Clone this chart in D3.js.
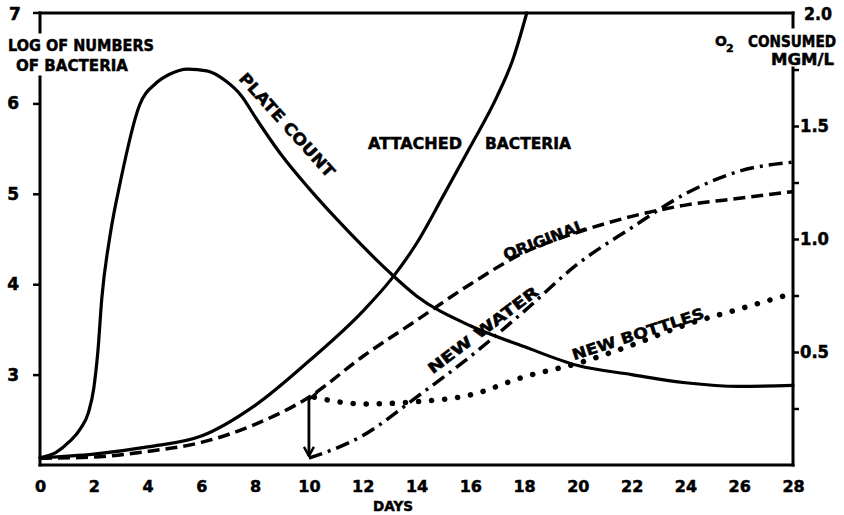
<!DOCTYPE html>
<html>
<head>
<meta charset="utf-8">
<script src="https://cdn.jsdelivr.net/npm/d3@7"></script>
<style>
  body { margin: 0; background: #fff; }
  text { font-family: 'DejaVu Sans', sans-serif; font-weight: bold; fill: #000; stroke: #000; stroke-width: 0.5px; }
</style>
</head>
<body>
<script>
// bacteria in bottles, log counts (left) and O2 consumed (right)

let w = 844;
let h = 515;

// log numbers of bacteria
let plateDays = [0, 0.6, 1.1, 1.5, 1.8, 2, 2.15, 2.3, 2.6, 3, 3.7, 4.3, 4.8, 5.5, 6.2, 6.9, 7.5, 8, 9, 10, 11, 12, 13, 14, 16, 18, 20, 22, 24, 26, 28];
let plateLog = [2.08, 2.14, 2.26, 2.4, 2.58, 2.85, 3.25, 3.85, 4.53, 5.15, 5.98, 6.22, 6.32, 6.38, 6.36, 6.25, 6.08, 5.85, 5.42, 5.06, 4.73, 4.42, 4.13, 3.87, 3.54, 3.31, 3.1, 3.0, 2.91, 2.87, 2.88];

let attachedDays = [0, 2, 4, 6, 8, 10, 12, 13.1, 14, 15, 16, 17, 17.6, 18.1];
let attachedLog = [2.08, 2.12, 2.2, 2.32, 2.66, 3.15, 3.7, 4.07, 4.45, 4.98, 5.52, 6.08, 6.5, 7.0];

// O2 consumed, mgm/l
let originalDays = [0, 2, 4, 6, 8, 10, 12, 14, 16, 18, 20, 22, 24, 26, 28];
let originalO2 = [0.03, 0.035, 0.06, 0.1, 0.18, 0.3, 0.48, 0.64, 0.8, 0.94, 1.03, 1.1, 1.15, 1.18, 1.21];

let waterDays = [10, 12, 14, 16, 18, 20, 22, 24, 26, 28];
let waterO2 = [0.03, 0.13, 0.3, 0.48, 0.68, 0.89, 1.05, 1.2, 1.3, 1.34];

let bottleDays = [10.2, 12, 14, 16, 18, 20, 22, 24, 26, 28];
let bottleO2 = [0.3, 0.27, 0.28, 0.31, 0.39, 0.45, 0.53, 0.62, 0.69, 0.76];

let dayTicks = [0, 2, 4, 6, 8, 10, 12, 14, 16, 18, 20, 22, 24, 26, 28];
let logTicks = [3, 4, 5, 6];
let o2Ticks = [0.25, 0.5, 0.75, 1.0, 1.25, 1.5, 1.75];
let o2Labels = [0.5, 1.0, 1.5];

let x = d3.scaleLinear().domain([0, 28]).range([40, 793]);
let yL = d3.scaleLinear().domain([2, 7]).range([465, 13]);
let yR = d3.scaleLinear().domain([0, 2]).range([465, 13]);

let svg = d3.select('body').append('svg').attr('width', w).attr('height', h);

// frame
let frame = [
    [[40, 13], [793, 13]],
    [[40, 13], [40, 32]],
    [[40, 77], [40, 465]],
    [[40, 465], [793, 465]],
    [[793, 13], [793, 27]],
    [[793, 68], [793, 465]]
];
svg.selectAll('line.frame')
    .data(frame)
    .enter()
    .append('line')
    .attr('class', 'frame')
    .attr('x1', d => d[0][0]).attr('y1', d => d[0][1])
    .attr('x2', d => d[1][0]).attr('y2', d => d[1][1])
    .attr('stroke', '#000')
    .attr('stroke-width', 3)
    .attr('stroke-linecap', 'square');

function txt(t, tx, ty, size, len) {
    let el = svg.append('text').attr('x', tx).attr('y', ty).attr('font-size', size).text(t);
    if (len) el.attr('textLength', len).attr('lengthAdjust', 'spacingAndGlyphs');
    return el;
}

// bottom axis
let xAxis = svg.append('g')
    .attr('transform', 'translate(0,465)')
    .call(d3.axisBottom(x).tickValues(dayTicks).tickSize(0).tickPadding(16).tickFormat(d3.format('d')));
xAxis.select('.domain').remove();
xAxis.selectAll('text').attr('font-size', 16).attr('font-family', null).attr('fill', null);

txt('DAYS', 373, 511, 14, 40);

// left axis
let leftAxis = svg.append('g')
    .attr('transform', 'translate(40,0)')
    .call(d3.axisLeft(yL).tickValues(logTicks).tickSize(7).tickPadding(14).tickFormat(d3.format('d')));
leftAxis.select('.domain').remove();
leftAxis.selectAll('line').attr('stroke-width', 2.5);
leftAxis.selectAll('text').attr('font-size', 17).attr('font-family', null).attr('fill', null);

txt('7', 9, 20, 17);
svg.append('line').attr('x1', 33).attr('x2', 40).attr('y1', yL(7)).attr('y2', yL(7)).attr('stroke', '#000').attr('stroke-width', 2.5);

txt('LOG OF NUMBERS', 8, 51, 16, 146);
txt('OF BACTERIA', 16, 71, 16, 112);

// right axis
let rightAxis = svg.append('g')
    .attr('transform', 'translate(793,0)')
    .call(d3.axisRight(yR).tickValues(o2Ticks).tickSize(6).tickFormat(''));
rightAxis.select('.domain').remove();
rightAxis.selectAll('line').attr('stroke-width', 2.5);

svg.selectAll('text.o2')
    .data(o2Labels)
    .enter()
    .append('text')
    .attr('class', 'o2')
    .attr('x', 800)
    .attr('y', d => yR(d) + 6)
    .attr('font-size', 17)
    .attr('textLength', 29)
    .attr('lengthAdjust', 'spacingAndGlyphs')
    .text(d => d.toFixed(1));

txt('2.0', 804, 20, 17, 28);
txt('O', 715, 46, 14);
txt('2', 726, 52, 11);
txt('CONSUMED', 748, 47, 15, 88);
txt('MGM/L', 771, 65, 15, 63);

// curves
let lineL = d3.line().x(d => x(d[0])).y(d => yL(d[1])).curve(d3.curveMonotoneX);
let lineR = d3.line().x(d => x(d[0])).y(d => yR(d[1])).curve(d3.curveMonotoneX);

let series = [
    { pts: d3.zip(plateDays, plateLog), line: lineL, dash: null, cap: 'round', sw: 3.2 },
    { pts: d3.zip(attachedDays, attachedLog), line: lineL, dash: null, cap: 'round', sw: 3.2 },
    { pts: d3.zip(originalDays, originalO2), line: lineR, dash: '12,6', cap: 'butt', sw: 3.5 },
    { pts: d3.zip(waterDays, waterO2), line: lineR, dash: '14,6,3,6', cap: 'butt', sw: 3.5 },
    { pts: d3.zip(bottleDays, bottleO2), line: lineR, dash: '0.1,13', cap: 'round', sw: 5.5 }
];

svg.selectAll('path.curve')
    .data(series)
    .enter()
    .append('path')
    .attr('class', 'curve')
    .attr('d', d => d.line(d.pts))
    .attr('fill', 'none')
    .attr('stroke', '#000')
    .attr('stroke-width', d => d.sw)
    .attr('stroke-dasharray', d => d.dash)
    .attr('stroke-linecap', d => d.cap);

// arrow from original curve down to the new water start
svg.append('defs').append('marker')
    .attr('id', 'head')
    .attr('viewBox', '0 0 12 12')
    .attr('refX', 11).attr('refY', 6)
    .attr('markerWidth', 12).attr('markerHeight', 12)
    .attr('markerUnits', 'userSpaceOnUse')
    .attr('orient', 'auto')
    .append('path')
    .attr('d', 'M2,1 L11,6 L2,11')
    .attr('fill', 'none')
    .attr('stroke', '#000')
    .attr('stroke-width', 2.5);

svg.append('path')
    .attr('d', `M${x(10.3)},${yR(0.32)} L${x(10)},${yR(0.29)} L${x(10)},${yR(0.04)}`)
    .attr('fill', 'none')
    .attr('stroke', '#000')
    .attr('stroke-width', 2.8)
    .attr('marker-end', 'url(#head)');

// curve labels
let labels = [
    { t: 'PLATE COUNT', x: 287, y: 125, a: 48, s: 16, len: 134 },
    { t: 'ORIGINAL', x: 544, y: 240, a: -21, s: 15, len: 86 },
    { t: 'NEW   WATER', x: 483, y: 330, a: -37, s: 15, len: 134 },
    { t: 'NEW BOTTLES', x: 638, y: 334, a: -18, s: 15, len: 138 }
];
svg.selectAll('text.lab')
    .data(labels)
    .enter()
    .append('text')
    .attr('class', 'lab')
    .attr('text-anchor', 'middle')
    .attr('font-size', d => d.s)
    .attr('textLength', d => d.len)
    .attr('lengthAdjust', 'spacingAndGlyphs')
    .attr('transform', d => `translate(${d.x},${d.y}) rotate(${d.a})`)
    .attr('dy', '0.35em')
    .text(d => d.t);

txt('ATTACHED', 368, 149, 16, 94);
txt('BACTERIA', 485, 149, 16, 86);
</script>
</body>
</html>
